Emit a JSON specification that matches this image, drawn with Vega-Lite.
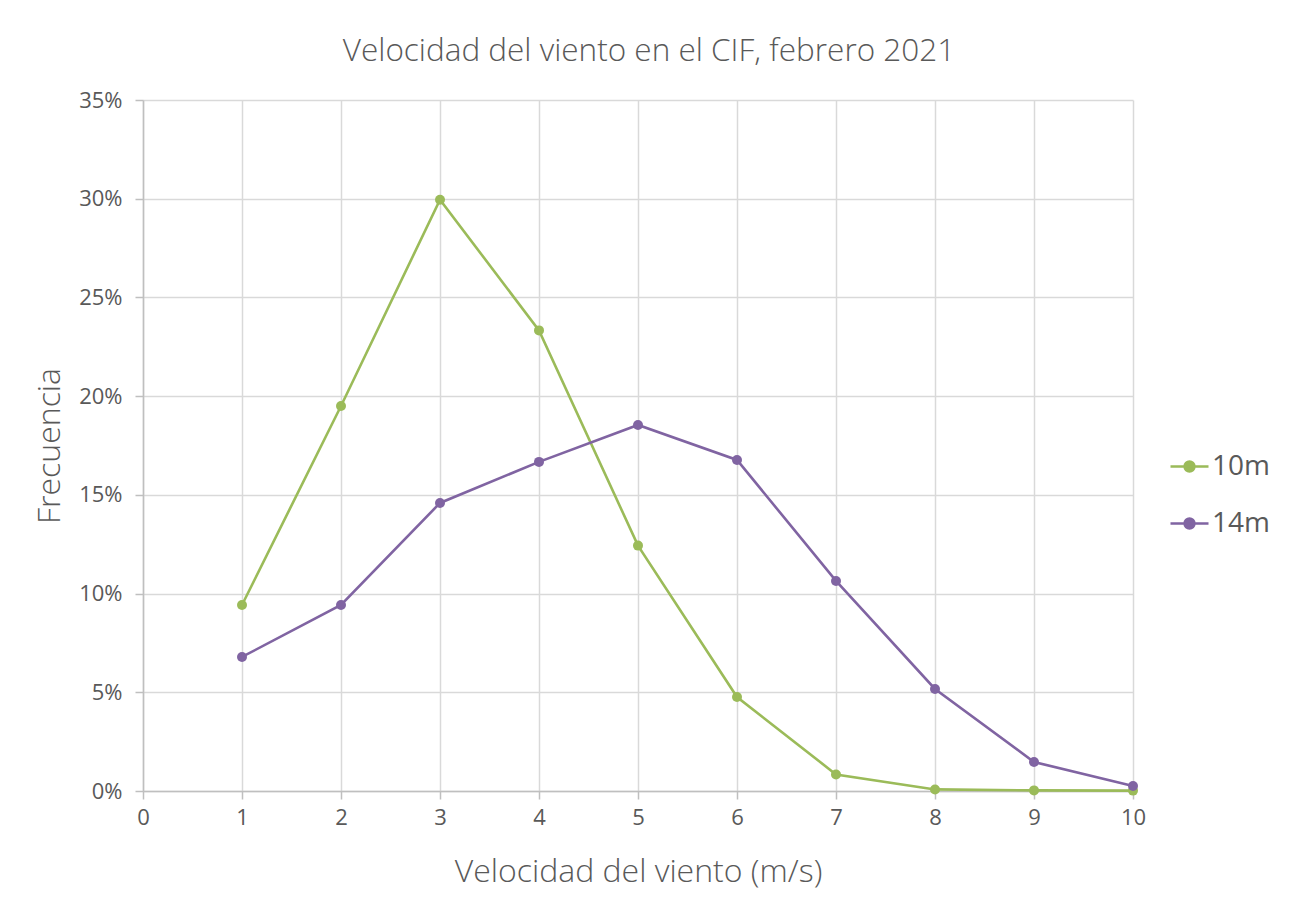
{
  "$schema": "https://vega.github.io/schema/vega-lite/v6.json",
  "width": 990,
  "height": 691,
  "autosize": {"type": "none"},
  "padding": {"left": 143, "top": 100, "right": 164, "bottom": 118},
  "background": "white",
  "title": {
    "text": "Velocidad del viento en el CIF, febrero 2021",
    "font": "Open Sans",
    "fontSize": 31.5,
    "fontWeight": 300,
    "color": "#595959",
    "anchor": "middle",
    "dx": 11,
    "offset": 22
  },
  "data": {
    "values": [
      {"v": 1, "f": 0.0942, "s": "10m"},
      {"v": 2, "f": 0.195, "s": "10m"},
      {"v": 3, "f": 0.2995, "s": "10m"},
      {"v": 4, "f": 0.2333, "s": "10m"},
      {"v": 5, "f": 0.1243, "s": "10m"},
      {"v": 6, "f": 0.0476, "s": "10m"},
      {"v": 7, "f": 0.0084, "s": "10m"},
      {"v": 8, "f": 0.0008, "s": "10m"},
      {"v": 9, "f": 0.0003, "s": "10m"},
      {"v": 10, "f": 0.0002, "s": "10m"},
      {"v": 1, "f": 0.0679, "s": "14m"},
      {"v": 2, "f": 0.0942, "s": "14m"},
      {"v": 3, "f": 0.1459, "s": "14m"},
      {"v": 4, "f": 0.1667, "s": "14m"},
      {"v": 5, "f": 0.1854, "s": "14m"},
      {"v": 6, "f": 0.1677, "s": "14m"},
      {"v": 7, "f": 0.1064, "s": "14m"},
      {"v": 8, "f": 0.0517, "s": "14m"},
      {"v": 9, "f": 0.0147, "s": "14m"},
      {"v": 10, "f": 0.0025, "s": "14m"}
    ]
  },
  "encoding": {
    "x": {
      "field": "v", "type": "quantitative",
      "scale": {"domain": [0, 10], "nice": false, "zero": true},
      "axis": {
        "title": "Velocidad del viento (m/s)",
        "values": [0,1,2,3,4,5,6,7,8,9,10],
        "format": "d",
        "labelFlush": false,
        "grid": true,
        "gridColor": "#D9D9D9",
        "gridWidth": 1.5,
        "domainColor": "#BFBFBF",
        "domainWidth": 1.5,
        "tickColor": "#BFBFBF",
        "tickSize": 8,
        "tickWidth": 1.5,
        "labelFont": "Open Sans",
        "labelFontSize": 22,
        "labelColor": "#595959",
        "labelPadding": 8,
        "titleFont": "Open Sans",
        "titleFontSize": 32,
        "titleFontWeight": 300,
        "titleColor": "#595959",
        "titlePadding": 28
      }
    },
    "y": {
      "field": "f", "type": "quantitative",
      "scale": {"domain": [0, 0.35], "nice": false},
      "axis": {
        "title": "Frecuencia",
        "values": [0, 0.05, 0.1, 0.15, 0.2, 0.25, 0.3, 0.35],
        "format": ".0%",
        "labelFlush": false,
        "grid": true,
        "gridColor": "#D9D9D9",
        "gridWidth": 1.5,
        "domainColor": "#BFBFBF",
        "domainWidth": 1.5,
        "tickColor": "#BFBFBF",
        "tickSize": 8,
        "tickWidth": 1.5,
        "labelFont": "Open Sans",
        "labelFontSize": 22,
        "labelColor": "#595959",
        "labelPadding": 13,
        "titleFont": "Open Sans",
        "titleFontSize": 32,
        "titleFontWeight": 300,
        "titleColor": "#595959",
        "titlePadding": 12
      }
    },
    "color": {
      "field": "s", "type": "nominal",
      "scale": {"domain": ["10m", "14m"], "range": ["#9BBB59", "#8064A2"]},
      "legend": {
        "title": null,
        "orient": "none",
        "legendX": 1026,
        "legendY": 346,
        "symbolType": "M-1,0L1,0M-0.26,0A0.26,0.26,0,1,1,0.26,0A0.26,0.26,0,1,1,-0.26,0Z",
        "labelFont": "Open Sans",
        "labelFontSize": 28,
        "labelColor": "#595959",
        "symbolSize": 1444,
        "symbolStrokeWidth": 2.5,
        "symbolOpacity": 1,
        "rowPadding": 22,
        "labelOffset": 2
      }
    }
  },
  "layer": [
    {
      "mark": {"type": "line", "strokeWidth": 2.6}
    },
    {
      "mark": {"type": "point", "filled": true, "size": 100, "opacity": 1}
    }
  ],
  "config": {"view": {"stroke": null}}
}
